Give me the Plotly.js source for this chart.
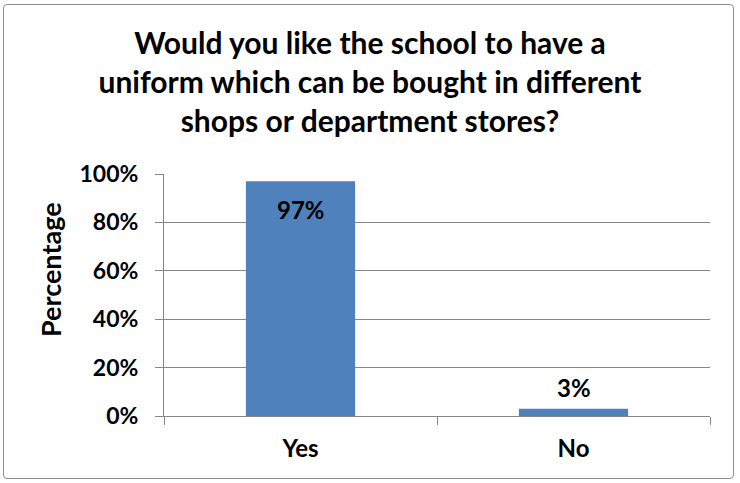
<!DOCTYPE html>
<html>
<head>
<meta charset="utf-8">
<script src="https://cdn.plot.ly/plotly-3.0.1.min.js"></script>
<style>
  html, body { margin: 0; padding: 0; background: #fff; }
  #wrap { position: relative; width: 740px; height: 483px; }
  #frame { position: absolute; left: 3px; top: 4px; width: 731px; height: 475px;
           border: 1px solid #8c8c8c; border-radius: 4px; box-sizing: border-box; pointer-events: none; }
  #chart { position: absolute; left: 0; top: 0; width: 740px; height: 483px; }
</style>
</head>
<body>
<div id="wrap">
  <div id="chart"></div>
  <div id="frame"></div>
</div>
<script>
const categories = ["Yes", "No"];
const percentages = [0.97, 0.03];
const dataLabels = ["97%", "3%"];
const yTickValues = [0, 0.2, 0.4, 0.6, 0.8, 1.0];
const yTickLabels = ["0%", "20%", "40%", "60%", "80%", "100%"];
const chartTitle = "Would you like the school to have a<br>uniform which can be bought in different<br>shops or department stores?";
const yTitle = "Percentage";

const FONT = "Lato, 'Open Sans', sans-serif";
const LABEL_SIZE = 24;

const trace = {
  type: "bar",
  x: categories,
  y: percentages,
  marker: { color: "#4f81bd", line: { width: 0 } },
  width: 0.4,
  hoverinfo: "none"
};

// data labels: inside end for the tall bar, above the short bar
const labelAnnotations = categories.map((c, i) => {
  const inside = percentages[i] > 0.5;
  return {
    x: c, y: percentages[i], xref: "x", yref: "y",
    text: dataLabels[i], showarrow: false,
    xanchor: "center",
    yanchor: inside ? "top" : "bottom",
    yshift: inside ? -12 : 5,
    font: { family: FONT, size: LABEL_SIZE, color: "#000", weight: 700 }
  };
});

const yTitleAnnotation = {
  text: yTitle, textangle: -90, showarrow: false,
  xref: "paper", yref: "paper",
  x: (50 - 164) / 546, y: (416 - 270) / 242,
  xanchor: "center", yanchor: "middle",
  font: { family: FONT, size: 27, color: "#000", weight: 700 }
};

const layout = {
  width: 740,
  height: 483,
  margin: { l: 164, r: 30, t: 174, b: 67 },
  paper_bgcolor: "#ffffff",
  plot_bgcolor: "#ffffff",
  showlegend: false,
  title: {
    text: chartTitle,
    font: { family: FONT, size: 30, color: "#000", weight: 700 },
    x: 0.5, xref: "container", xanchor: "center",
    y: 1 - 54 / 483, yref: "container", yanchor: "top"
  },
  xaxis: {
    type: "category",
    showgrid: false,
    showline: true,
    linecolor: "#868686",
    linewidth: 1,
    ticks: "outside",
    tickson: "boundaries",
    ticklen: 8,
    tickcolor: "#868686",
    ticklabelstandoff: 11,
    tickfont: { family: FONT, size: LABEL_SIZE, color: "#000", weight: 700 },
    zeroline: false
  },
  yaxis: {
    range: [0, 1],
    tickvals: yTickValues,
    ticktext: yTickLabels,
    showgrid: true,
    gridcolor: "#868686",
    gridwidth: 1,
    showline: true,
    linecolor: "#868686",
    linewidth: 1,
    ticks: "outside",
    ticklen: 8,
    tickcolor: "#868686",
    ticklabelstandoff: 12,
    tickfont: { family: FONT, size: 23, color: "#000", weight: 700 },
    zeroline: false
  },
  annotations: [...labelAnnotations, yTitleAnnotation]
};

Plotly.newPlot("chart", [trace], layout, { displayModeBar: false, staticPlot: true });
</script>
</body>
</html>
